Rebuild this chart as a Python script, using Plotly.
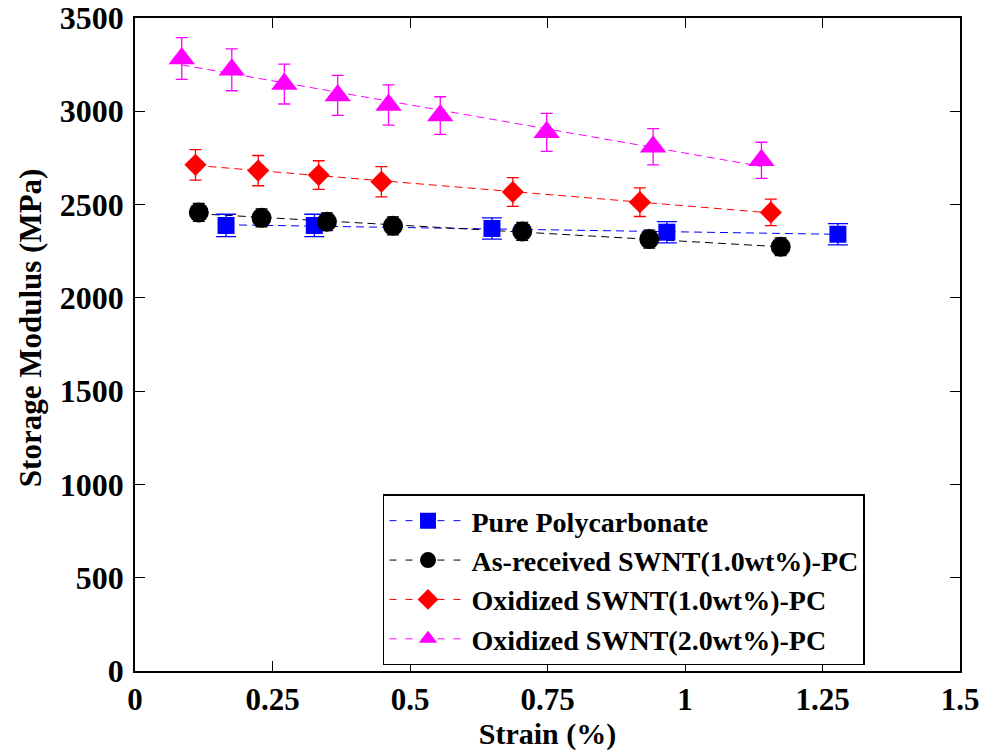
import numpy as np
import plotly.graph_objects as go

# ---- data ----
series_names = [
    "Pure Polycarbonate",
    "As-received SWNT(1.0wt%)-PC",
    "Oxidized SWNT(1.0wt%)-PC",
    "Oxidized SWNT(2.0wt%)-PC",
]

pc_x = [0.1655, 0.326, 0.649, 0.967, 1.278]
pc_y = [2388, 2388, 2372, 2352, 2341]
pc_err = [60, 60, 57, 57, 57]

asr_x = [0.116, 0.230, 0.349, 0.469, 0.704, 0.935, 1.174]
asr_y = [2458, 2429, 2408, 2386, 2356, 2315, 2274]
asr_err = [48, 48, 48, 48, 48, 48, 48]

ox1_x = [0.110, 0.224, 0.334, 0.448, 0.687, 0.918, 1.156]
ox1_y = [2713, 2682, 2658, 2622, 2567, 2513, 2458]
ox1_err = [82, 81, 77, 81, 77, 77, 71]

ox2_x = [0.085, 0.176, 0.2715, 0.3685, 0.461, 0.555, 0.7485, 0.942, 1.139]
ox2_y = [3283, 3222, 3146, 3085, 3034, 2977, 2887, 2810, 2737]
ox2_err = [112, 112, 107, 107, 108, 101, 102, 97, 97]

x_tickvals = [0, 0.25, 0.5, 0.75, 1, 1.25, 1.5]
x_ticktext = ["0", "0.25", "0.5", "0.75", "1", "1.25", "1.5"]
y_tickvals = [0, 500, 1000, 1500, 2000, 2500, 3000, 3500]
y_ticktext = ["0", "500", "1000", "1500", "2000", "2500", "3000", "3500"]

x_title = "Strain (%)"
y_title = "Storage Modulus (MPa)"

# ---- styles ----
colors = ["#0000FF", "#000000", "#FF0000", "#FF00FF"]
symbols = ["square", "circle", "diamond", "triangle-up"]
sizes = [17, 20, 17, 23]
capw = [10, 6, 6, 6]
FONT = "Liberation Serif"


def bold(s):
    return "<b>" + s + "</b>"


data = [
    (pc_x, pc_y, pc_err),
    (asr_x, asr_y, asr_err),
    (ox1_x, ox1_y, ox1_err),
    (ox2_x, ox2_y, ox2_err),
]

fig = go.Figure()

for i, (xs, ys, es) in enumerate(data):
    xs_a = np.array(xs)
    ys_a = np.array(ys)
    k, b = np.polyfit(xs_a, ys_a, 1)
    xf = np.array([xs_a.min(), xs_a.max()])
    fig.add_trace(go.Scatter(
        x=xf, y=k * xf + b, mode="lines",
        line=dict(color=colors[i], width=1, dash="8px,5px"),
        showlegend=False, hoverinfo="skip",
    ))

for i, (xs, ys, es) in enumerate(data):
    fig.add_trace(go.Scatter(
        x=xs, y=ys, mode="markers",
        marker=dict(symbol=symbols[i], size=sizes[i], color=colors[i],
                    line=dict(width=0)),
        error_y=dict(type="data", array=es, visible=True,
                     color=colors[i], thickness=1.3, width=capw[i]),
        showlegend=False, name=series_names[i],
    ))

# legend-only entries (dash + marker)
for i in range(4):
    fig.add_trace(go.Scatter(
        x=[None], y=[None], mode="lines+markers",
        name=bold(series_names[i]),
        line=dict(color=colors[i], width=1, dash="7px,9px"),
        marker=dict(symbol=symbols[i], size=sizes[i], color=colors[i]),
    ))

axis_common = dict(
    showline=True, linecolor="black", linewidth=1.5, mirror="ticks",
    ticks="inside", ticklen=10, tickwidth=1, tickcolor="black",
    showgrid=False, zeroline=False, automargin=False,
)

fig.update_xaxes(
    range=[0, 1.5], tickvals=x_tickvals, ticktext=[bold(t) for t in x_ticktext],
    tickfont=dict(family=FONT, size=31, color="black"),
    title=dict(text=bold(x_title), standoff=2,
               font=dict(family=FONT, size=30, color="black")),
    **axis_common,
)
fig.update_yaxes(
    range=[0, 3500], tickvals=y_tickvals, ticktext=[bold(t) for t in y_ticktext],
    tickfont=dict(family=FONT, size=32, color="black"),
    ticklabelstandoff=3,
    **axis_common,
)

# y-axis title placed as a rotated annotation (slightly above plot centre, as in the reference)
fig.add_annotation(
    text=bold(y_title), textangle=-90, showarrow=False,
    xref="paper", yref="paper", x=0, y=0.525,
    xanchor="center", yanchor="middle", xshift=-105,
    font=dict(family=FONT, size=31, color="black"),
)

fig.update_layout(
    width=985, height=751,
    margin=dict(l=135, r=25, t=18, b=80, autoexpand=False),
    paper_bgcolor="white", plot_bgcolor="white",
    legend=dict(
        x=0.3006, y=0.1394, xanchor="left", yanchor="middle",
        bgcolor="white", bordercolor="black", borderwidth=1.5,
        font=dict(family=FONT, size=28, color="black"),
        itemwidth=77, tracegroupgap=0,
    ),
)

fig.write_html("out.html", post_script="document.body.style.margin='0';",
               config={"displayModeBar": False})
